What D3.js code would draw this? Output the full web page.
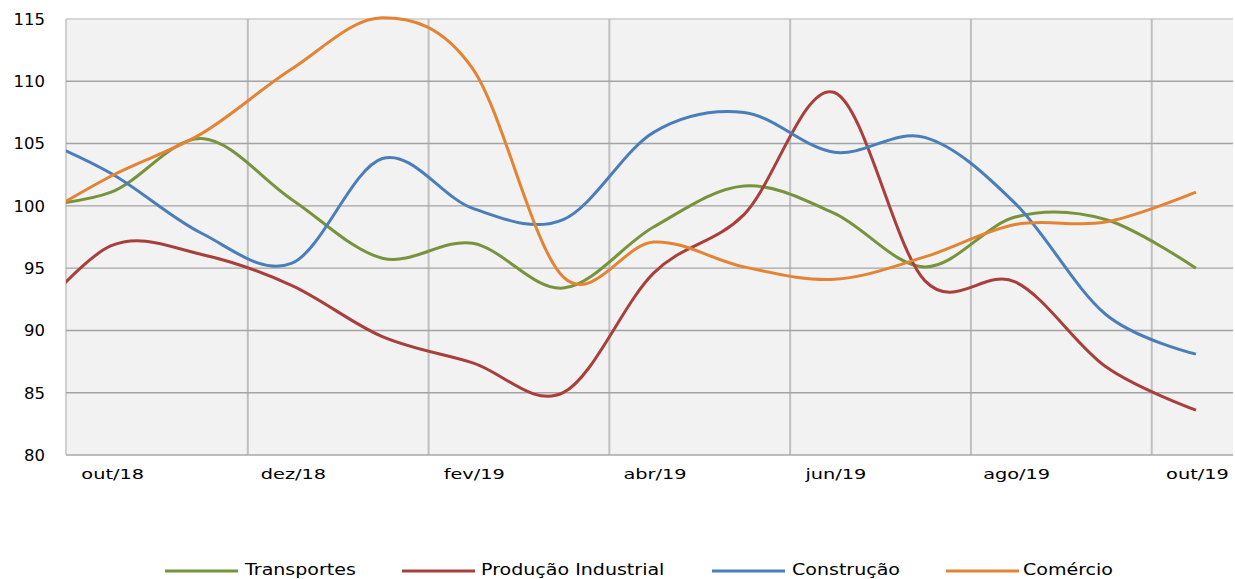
<!DOCTYPE html>
<html>
<head>
<meta charset="utf-8">
<script src="https://cdn.jsdelivr.net/npm/d3@7"></script>
<style>
  html, body { margin: 0; padding: 0; background: #ffffff; }
  svg { display: block; }
  .axis text { font-family: "DejaVu Sans", Verdana, sans-serif; fill: #000; }
  .legend text { font-family: "DejaVu Sans", Verdana, sans-serif; fill: #000; }
</style>
</head>
<body>
<svg id="chart" width="1235" height="579"></svg>
<script>
// Monthly index values, set/18 .. out/19
const months = ["set/18","out/18","nov/18","dez/18","jan/19","fev/19","mar/19","abr/19","mai/19","jun/19","jul/19","ago/19","set/19","out/19"];
const transportes = [99.9, 101.1, 105.4, 100.5, 95.8, 97.0, 93.4, 98.3, 101.6, 99.4, 95.1, 99.1, 98.9, 95.0];
const producaoIndustrial = [89.9, 96.8, 96.1, 93.6, 89.5, 87.4, 85.0, 94.6, 99.3, 109.1, 94.0, 93.9, 87.1, 83.6];
const construcao = [106.0, 102.6, 97.8, 95.4, 103.8, 99.8, 98.9, 105.9, 107.5, 104.3, 105.5, 100.2, 91.3, 88.1];
const comercio = [98.2, 102.4, 105.8, 111.0, 115.1, 111.0, 94.3, 97.1, 95.1, 94.1, 95.9, 98.5, 98.7, 101.1];

const seriesNames = ["Transportes", "Produção Industrial", "Construção", "Comércio"];
const seriesColors = ["#77933C", "#A93F3B", "#4A7EBB", "#E38434"];
const yTicks = [80, 85, 90, 95, 100, 105, 110, 115];
const xLabelIdx = [1, 3, 5, 7, 9, 11, 13];

const series = [transportes, producaoIndustrial, construcao, comercio].map((vals, k) => ({
  name: seriesNames[k], color: seriesColors[k], values: vals
}));

const svg = d3.select("#chart");
const plot = { left: 66, right: 1233, top: 19, bottom: 455 };

const x = d3.scaleLinear().domain([0.5, 13.41]).range([plot.left, plot.right]);
const y = d3.scaleLinear().domain([80, 115]).range([plot.bottom, plot.top]);

// plot background
svg.append("rect")
  .attr("x", plot.left).attr("y", plot.top)
  .attr("width", plot.right - plot.left).attr("height", plot.bottom - plot.top)
  .attr("fill", "#f2f2f2");

// top and left frame
svg.append("line").attr("x1", plot.left).attr("x2", plot.right)
  .attr("y1", plot.top).attr("y2", plot.top)
  .attr("stroke", "#d6d6d6").attr("stroke-width", 2);
svg.append("line").attr("x1", plot.left).attr("x2", plot.left)
  .attr("y1", plot.top).attr("y2", plot.bottom)
  .attr("stroke", "#d0d0d0").attr("stroke-width", 2);

// vertical gridlines every two months
const vGrid = [2.5, 4.5, 6.5, 8.5, 10.5, 12.5];
svg.append("g").selectAll("line").data(vGrid).join("line")
  .attr("x1", d => x(d) + 1).attr("x2", d => x(d) + 1)
  .attr("y1", plot.top).attr("y2", plot.bottom)
  .attr("stroke", "#bfbfbf").attr("stroke-width", 2);

// horizontal gridlines
svg.append("g").selectAll("line").data(yTicks.filter(v => v > 80 && v < 115)).join("line")
  .attr("x1", plot.left).attr("x2", plot.right)
  .attr("y1", d => y(d)).attr("y2", d => y(d))
  .attr("stroke", "#a3a3a3").attr("stroke-width", 1.4);

// bottom axis line
svg.append("line").attr("x1", plot.left).attr("x2", plot.right)
  .attr("y1", plot.bottom).attr("y2", plot.bottom)
  .attr("stroke", "#a8a8a8").attr("stroke-width", 1.6);

// series lines
svg.append("defs").append("clipPath").attr("id", "plotClip")
  .append("rect").attr("x", plot.left).attr("y", plot.top - 4)
  .attr("width", plot.right - plot.left).attr("height", plot.bottom - plot.top + 8);

const line = d3.line()
  .x((d, i) => x(i))
  .y(d => y(d))
  .curve(d3.curveCatmullRom.alpha(0));

const linesG = svg.append("g").attr("clip-path", "url(#plotClip)");
linesG.selectAll("path").data(series).join("path")
  .attr("d", d => line(d.values))
  .attr("fill", "none")
  .attr("stroke", d => d.color)
  .attr("stroke-width", 3)
  .attr("stroke-linejoin", "round")
  .attr("stroke-linecap", "butt");

// y axis
const yAxis = svg.append("g").attr("class", "axis")
  .attr("transform", `translate(${plot.left},0)`)
  .call(d3.axisLeft(y).tickValues(yTicks).tickSize(0).tickPadding(0).tickFormat(d3.format("d")));
yAxis.select(".domain").remove();
yAxis.selectAll("text")
  .attr("x", 0).attr("dy", "0.36em")
  .attr("text-anchor", "end")
  .style("font-size", "15px")
  .attr("transform", "translate(-21,0) scale(1.1,1)");

// x axis
const xAxis = svg.append("g").attr("class", "axis")
  .attr("transform", `translate(0,${plot.bottom})`)
  .call(d3.axisBottom(x).tickValues(xLabelIdx).tickSize(0).tickPadding(0).tickFormat(i => months[i]));
xAxis.select(".domain").remove();
xAxis.selectAll("text")
  .attr("y", 0).attr("dy", 0)
  .attr("text-anchor", "middle")
  .style("font-size", "14px")
  .attr("transform", "translate(1,24) scale(1.38,1)");

// legend
const legendItems = [
  { lx: 165, tx: 245 },
  { lx: 402, tx: 481 },
  { lx: 712, tx: 792 },
  { lx: 946, tx: 1023 }
];
const legend = svg.append("g").attr("class", "legend");
const li = legend.selectAll("g").data(series).join("g");
li.append("line")
  .attr("x1", (d, i) => legendItems[i].lx)
  .attr("x2", (d, i) => legendItems[i].lx + 73)
  .attr("y1", 571).attr("y2", 571)
  .attr("stroke", d => d.color).attr("stroke-width", 3);
li.append("text")
  .attr("transform", (d, i) => `translate(${legendItems[i].tx},575) scale(1.27,1)`)
  .style("font-size", "15px")
  .text(d => d.name);
</script>
</body>
</html>
